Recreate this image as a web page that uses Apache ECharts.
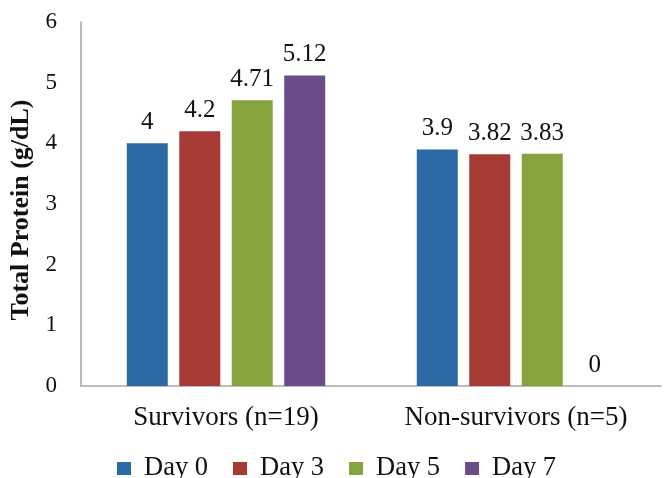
<!DOCTYPE html>
<html>
<head>
<meta charset="utf-8">
<script src="https://cdn.jsdelivr.net/npm/echarts@6/dist/echarts.min.js"></script>
<style>
  html, body { margin: 0; padding: 0; background: #fff; }
  #chart { width: 665px; height: 478px; }
</style>
</head>
<body>
<div id="chart"></div>
<script>
// Total protein by outcome group and sampling day
const categories = ['Survivors (n=19)', 'Non-survivors (n=5)'];
const day0 = [4, 3.9];
const day3 = [4.2, 3.82];
const day5 = [4.71, 3.83];
const day7 = [5.12, 0];
const seriesNames = ['Day 0', 'Day 3', 'Day 5', 'Day 7'];
const seriesColors = ['#2c6aa6', '#a83a36', '#86a43e', '#6a4c8b'];
const yTicks = { min: 0, max: 6, interval: 1 };

const serif = 'Liberation Serif, Times New Roman, serif';
const chart = echarts.init(document.getElementById('chart'));

const seriesData = [day0, day3, day5, day7];
const series = seriesData.map((vals, i) => ({
  name: seriesNames[i],
  type: 'bar',
  data: vals,
  barWidth: 41,
  barGap: '28%',
  itemStyle: { color: seriesColors[i] },
  label: {
    show: true,
    position: 'top',
    distance: 8,
    color: '#111',
    fontFamily: serif,
    fontSize: 25
  }
}));

chart.setOption({
  animation: false,
  grid: { left: 81, right: 4, top: 22, bottom: 92, containLabel: false, outerBoundsMode: 'none' },
  legend: {
    data: seriesNames,
    left: 112,
    top: 450,
    itemWidth: 14,
    itemHeight: 13,
    itemGap: 25,
    icon: 'rect',
    textStyle: { fontFamily: serif, fontSize: 26.5, color: '#111', padding: [0, 0, 0, 8] }
  },
  xAxis: {
    type: 'category',
    data: categories,
    axisLine: { lineStyle: { color: '#a6a6a6', width: 1.5 } },
    axisTick: { show: false },
    axisLabel: { fontFamily: serif, fontSize: 27, color: '#111', margin: 18 }
  },
  yAxis: {
    type: 'value',
    min: yTicks.min,
    max: yTicks.max,
    interval: yTicks.interval,
    name: 'Total Protein (g/dL)',
    nameLocation: 'middle',
    nameGap: 44,
    nameTextStyle: { fontFamily: serif, fontSize: 26, fontWeight: 'bold', color: '#111', padding: [0, 12, 0, 0] },
    axisLine: { show: true, lineStyle: { color: '#a6a6a6', width: 1.5 } },
    axisTick: { show: false },
    splitLine: { show: false },
    axisLabel: { fontFamily: serif, fontSize: 23, color: '#111', margin: 24 }
  },
  series: series
});
</script>
</body>
</html>
